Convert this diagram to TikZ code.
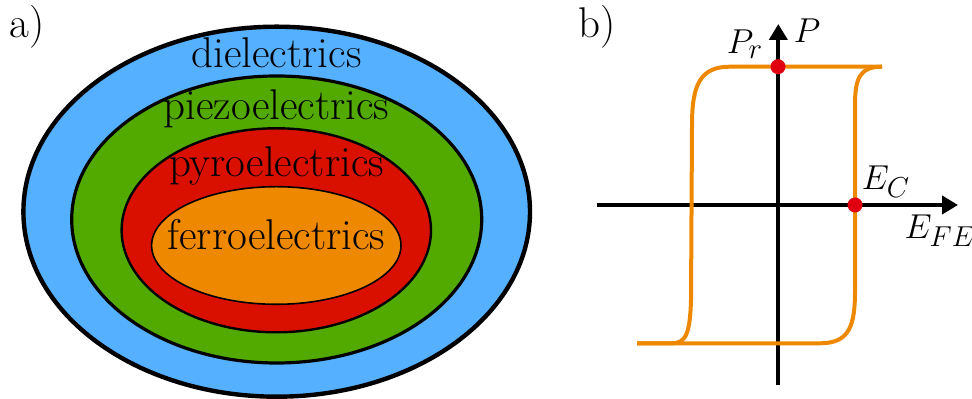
\documentclass[tikz,border=0pt]{standalone}
\usepackage{fontspec}
\usetikzlibrary{arrows.meta}
\definecolor{dielblue}{HTML}{55B0FF}
\definecolor{piezogreen}{HTML}{52AA00}
\definecolor{pyrored}{HTML}{D91000}
\definecolor{ferroorange}{HTML}{EE8800}
\definecolor{dotred}{HTML}{E0000F}
\tikzset{
  lbl/.style={font=\fontsize{21.5}{25}\selectfont, inner sep=0pt, anchor=base},
  mlbl/.style={font=\fontsize{19}{22}\selectfont, inner sep=0pt},
  axis/.style={line width=2pt, -{Triangle[length=8pt,width=9pt]}},
  hyst/.style={draw=ferroorange, line width=2pt, line join=round},
  reddot/.style={circle, fill=dotred, minimum size=7.5pt, inner sep=0pt},
}
\begin{document}
\begin{tikzpicture}[x=0.5pt, y=-0.5pt]
  \useasboundingbox (0,0) rectangle (972,399);
  % a) nested classes
  \draw[fill=dielblue, line width=2.2pt] (276.7,211.7) ellipse [x radius=253.3, y radius=185];
  \draw[fill=piezogreen, line width=1.6pt] (276.7,219.5) ellipse [x radius=205, y radius=143.5];
  \draw[fill=pyrored, line width=1.2pt] (276.3,230.3) ellipse [x radius=154.7, y radius=102];
  \draw[fill=ferroorange, line width=0.8pt] (276.3,245.5) ellipse [x radius=124.7, y radius=58.8];
  \node[lbl, anchor=base west] (lbla) at (9,37.3) {a)};
  \node[lbl] (diel) at (276.5,67.3) {dielectrics};
  \node[lbl] (piezo) at (276.5,120) {piezoelectrics};
  \node[lbl] (pyro) at (276.5,176.7) {pyroelectrics};
  \node[lbl] (ferro) at (276.5,250) {ferroelectrics};
  % b) hysteresis loop
  \node[lbl, anchor=base west] (lblb) at (578,38) {b)};
  \coordinate (ebot) at (778.3,385);
  \coordinate (etop) at (778.3,24);
  \coordinate (pleft) at (596.7,205);
  \coordinate (pright) at (958,205);
  \draw[axis] (pleft) -- (pright);
  \draw[axis] (ebot) -- (etop);
  % Loop branches
  \draw[hyst] (637,343.3) -- (820,343.3) .. controls (850,343.3) and (855,325) .. (855,290)
    -- (855,105) .. controls (855,78) and (860,66.7) .. (882,66.7);
  \draw[hyst] (882,66.7) -- (730,66.7) .. controls (700,66.7) and (692,85) .. (692,125)
    -- (691,300) .. controls (690,333) and (686,343.3) .. (672,343.3) -- (637,343.3);
  % Points
  \node[reddot] (pr) at (778,66.7) {};
  \node[reddot] (ec) at (855,205) {};
  \node[mlbl] (plbl) at (807,31) {$P$};
  \node[mlbl] (prlbl) at (745,44) {$P_r$};
  \node[mlbl] (eclbl) at (886,182) {$E_C$};
  \node[mlbl] (efelbl) at (940,231) {$E_{FE}$};
\end{tikzpicture}
\end{document}
